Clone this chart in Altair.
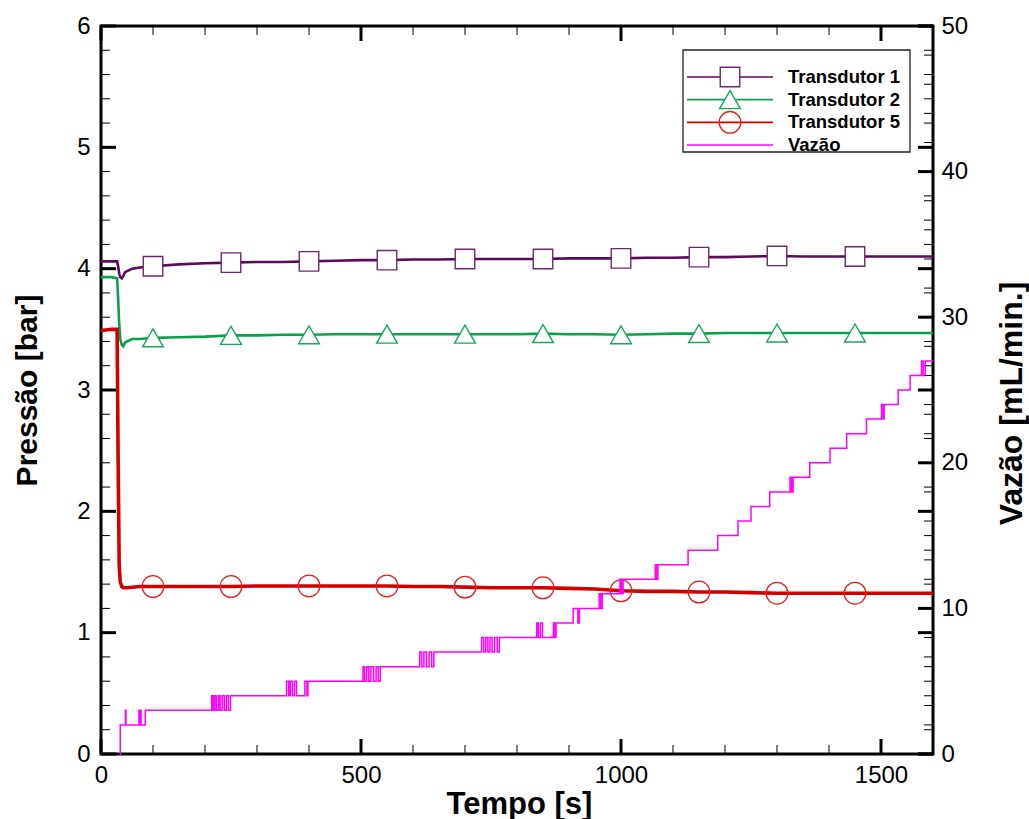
import altair as alt
import pandas as pd

# ---------------- data ----------------
time_s = [0, 20, 31, 33, 35, 37, 40, 43, 46, 50,
          60, 75, 100,
          150, 200, 250, 300, 350, 400, 450, 500, 550, 600,
          650, 700, 750, 800, 850, 900, 950, 1000, 1050, 1100,
          1150, 1200, 1250, 1300, 1350, 1400, 1450, 1500, 1550, 1600]

transdutor1 = [4.06, 4.06, 4.06, 4.02, 3.96, 3.93, 3.92, 3.94, 3.97, 3.98,
               4.00, 4.01, 4.02,
               4.035, 4.045, 4.05, 4.055, 4.055, 4.06, 4.065, 4.07, 4.07, 4.075,
               4.075, 4.08, 4.08, 4.08, 4.08, 4.085, 4.085, 4.085, 4.09, 4.09,
               4.095, 4.095, 4.10, 4.105, 4.10, 4.10, 4.10, 4.10, 4.10, 4.10]

transdutor2 = [3.93, 3.93, 3.92, 3.75, 3.55, 3.42, 3.37, 3.36, 3.39, 3.40,
               3.42, 3.42, 3.43,
               3.435, 3.44, 3.45, 3.45, 3.455, 3.455, 3.46, 3.46, 3.46, 3.46,
               3.46, 3.46, 3.46, 3.46, 3.465, 3.46, 3.46, 3.455, 3.46, 3.465,
               3.465, 3.47, 3.47, 3.47, 3.47, 3.47, 3.47, 3.47, 3.47, 3.47]

transdutor5 = [3.49, 3.50, 3.50, 2.40, 1.55, 1.42, 1.38, 1.37, 1.37, 1.37,
               1.375, 1.38, 1.38,
               1.38, 1.38, 1.38, 1.385, 1.385, 1.385, 1.385, 1.385, 1.385, 1.38,
               1.38, 1.375, 1.37, 1.37, 1.37, 1.365, 1.36, 1.345, 1.34, 1.34,
               1.335, 1.335, 1.33, 1.325, 1.325, 1.325, 1.325, 1.325, 1.325, 1.325]

marker_times = [100, 250, 400, 550, 700, 850, 1000, 1150, 1300, 1450]

# Vazão (mL/min) as (time, value) steps, incl. flicker at transitions
vazao_steps = [
    (36, 0), (37, 2), (47, 3), (48, 2), (73, 3), (74, 2), (76, 3), (77, 2), (85, 3),
    (213, 4), (216, 3), (219, 4), (222, 3), (226, 4), (229, 3), (233, 4), (237, 3),
    (241, 4), (245, 3), (249, 4),
    (357, 5), (361, 4), (364, 5), (368, 4), (372, 5), (376, 4), (392, 5), (396, 4), (398, 5),
    (504, 6), (507, 5), (511, 6), (515, 5), (519, 6), (524, 5), (529, 6), (533, 5), (537, 6),
    (613, 7), (617, 6), (621, 7), (626, 6), (631, 7), (636, 6), (640, 7),
    (732, 8), (736, 7), (740, 8), (744, 7), (748, 8), (752, 7), (757, 8), (762, 7), (766, 8),
    (838, 9), (841, 8), (845, 9), (849, 8), (870, 9), (873, 8), (875, 9),
    (908, 10), (917, 9), (920, 10),
    (958, 11), (961, 10), (964, 11),
    (998, 12), (1001, 11), (1004, 12),
    (1066, 13), (1068, 12), (1071, 13),
    (1129, 14), (1186, 15), (1225, 16), (1250, 17), (1286, 18),
    (1325, 19), (1328, 18), (1331, 19), (1363, 20), (1402, 21), (1434, 22), (1472, 23),
    (1501, 24), (1504, 23), (1506, 24), (1533, 25), (1556, 26),
    (1578, 27), (1581, 26), (1585, 27), (1600, 27),
]

legend_labels = ["Transdutor 1", "Transdutor 2", "Transdutor 5", "Vazão"]
line_colors = ["#5c0a5c", "#0aa04e", "#d40000", "#ff00ff"]
marker_colors = ["#6e2a6e", "#1aa85a", "#e02020"]
marker_shapes = ["square", "triangle-up", "circle"]
marker_sizes = [380, 430, 470]
marker_fills = ["white", "white", None]

# tick positions
p_major = [0, 1, 2, 3, 4, 5, 6]
p_minor = [round(0.2 * i, 1) for i in range(31) if i % 5]
f_major = [0, 10, 20, 30, 40, 50]
f_minor = [2 * i for i in range(26) if i % 5]
t_major = [0, 500, 1000, 1500]
t_minor = [100 * i for i in range(17) if i % 5]

# ---------------- layout ----------------
W, H = 832, 728
LABEL_FONT = "Liberation Sans, Arial"
TITLE_FONT = "Liberation Sans, Arial"

xscale = alt.Scale(domain=[0, 1600], nice=False, zero=False)
pscale = alt.Scale(domain=[0, 6], nice=False, zero=False)
fscale = alt.Scale(domain=[0, 50], nice=False, zero=False)

common_axis = dict(ticks=False, domain=False, grid=False, format="d", labelFlush=False,
                   labelFont=LABEL_FONT, labelFontSize=24, labelColor="black",
                   titleFont=TITLE_FONT, titleFontWeight="bold", titleColor="black",
                   titleBaseline="alphabetic", titleAlign="center")
xaxis = alt.Axis(title="Tempo [s]", values=t_major, labelPadding=9,
                 titleFontSize=31, titleX=418, titleY=59, titleAngle=0,
                 orient="bottom", **common_axis)
paxis = alt.Axis(title="Pressão [bar]", values=p_major, labelPadding=11,
                 titleFontSize=30, titleX=-65, titleY=H / 2, titleAngle=-90,
                 orient="left", **common_axis)
faxis = alt.Axis(title="Vazão [mL/min.]", values=f_major, labelPadding=8,
                 titleFontSize=32, titleX=88, titleY=377, titleAngle=-90,
                 orient="right", **common_axis)


def X(f):
    return alt.X(f"{f}:Q", scale=xscale, axis=xaxis)


def PY(f):
    return alt.Y(f"{f}:Q", scale=pscale, axis=paxis)


def FY(f):
    return alt.Y(f"{f}:Q", scale=fscale, axis=faxis)


df = pd.DataFrame({"t": time_s, "T1": transdutor1, "T2": transdutor2, "T5": transdutor5})
mk = df[df["t"].isin(marker_times)]
vz = pd.DataFrame(vazao_steps, columns=["t", "v"])

# ---------------- pressure layers ----------------
press_layers = []
for col, c, sw in zip(["T1", "T2", "T5"], line_colors[:3], [2.6, 2.6, 3.6]):
    press_layers.append(
        alt.Chart(df).mark_line(color=c, strokeWidth=sw, interpolate="linear")
        .encode(x=X("t"), y=PY(col))
    )
for col, c, shp, sz, fl in zip(["T1", "T2", "T5"], marker_colors, marker_shapes,
                               marker_sizes, marker_fills):
    if fl:
        m = alt.Chart(mk).mark_point(shape=shp, size=sz, filled=True, fill=fl, fillOpacity=1,
                                     stroke=c, strokeWidth=1.4, opacity=1)
    else:
        m = alt.Chart(mk).mark_point(shape=shp, size=sz, filled=False, color=c,
                                     strokeWidth=1.3, opacity=1)
    press_layers.append(m.encode(x=X("t"), y=PY(col)))

pmaj = pd.DataFrame({"v": p_major})
pmin = pd.DataFrame({"v": p_minor})
for d, ln, sw in [(pmaj, 15, 3), (pmin, 9, 1)]:
    press_layers.append(alt.Chart(d).mark_rule(color="black", strokeWidth=sw)
                        .encode(y=PY("v"), x=alt.value(0), x2=alt.value(ln)))
    press_layers.append(alt.Chart(d).mark_rule(color="black", strokeWidth=sw)
                        .encode(y=PY("v"), x=alt.value(W), x2=alt.value(W - ln)))
pressure = alt.layer(*press_layers)

# ---------------- flow layers ----------------
flow_layers = [
    alt.Chart(vz).mark_line(color=line_colors[3], strokeWidth=1.5, interpolate="step-after")
    .encode(x=X("t"), y=FY("v"))
]
fmaj = pd.DataFrame({"v": f_major})
fmin = pd.DataFrame({"v": f_minor})
for d, ln, sw in [(fmaj, 15, 3), (fmin, 9, 1)]:
    flow_layers.append(alt.Chart(d).mark_rule(color="black", strokeWidth=sw)
                       .encode(y=FY("v"), x=alt.value(W), x2=alt.value(W - ln)))
flow = alt.layer(*flow_layers)

# ---------------- time ticks (bottom + top) ----------------
tick_layers = []
tmaj = pd.DataFrame({"v": t_major})
tmin = pd.DataFrame({"v": t_minor})
for d, ln, sw in [(tmaj, 15, 3), (tmin, 9, 1)]:
    tick_layers.append(alt.Chart(d).mark_rule(color="black", strokeWidth=sw)
                       .encode(x=X("v"), y=alt.value(H), y2=alt.value(H - ln)))
    tick_layers.append(alt.Chart(d).mark_rule(color="black", strokeWidth=sw)
                       .encode(x=X("v"), y=alt.value(0), y2=alt.value(ln)))
tticks = alt.layer(*tick_layers)

# ---------------- legend ----------------
leg = pd.DataFrame({"label": legend_labels, "row": list(range(len(legend_labels)))})
legscale = alt.Scale(domain=[0, 3], range=[51, 119], nice=False, zero=False)
LY = alt.Y("row:Q", scale=legscale, axis=None)
legend_layers = [
    alt.Chart(pd.DataFrame({"a": [0]})).mark_rect(fill="white", stroke="#222", strokeWidth=1.3)
    .encode(x=alt.value(582), x2=alt.value(809), y=alt.value(24), y2=alt.value(126))
]
for i, lab in enumerate(legend_labels):
    row = leg[leg["row"] == i]
    legend_layers.append(alt.Chart(row).mark_rule(color=line_colors[i], strokeWidth=1.6)
                         .encode(x=alt.value(586), x2=alt.value(672), y=LY))
    if i < 3:
        if marker_fills[i]:
            m = alt.Chart(row).mark_point(shape=marker_shapes[i], size=marker_sizes[i],
                                          filled=True, fill=marker_fills[i], fillOpacity=1,
                                          stroke=marker_colors[i], strokeWidth=1.4, opacity=1)
        else:
            m = alt.Chart(row).mark_point(shape=marker_shapes[i], size=marker_sizes[i],
                                          filled=False, color=marker_colors[i],
                                          strokeWidth=1.3, opacity=1)
        legend_layers.append(m.encode(x=alt.value(629), y=LY))
legend_layers.append(
    alt.Chart(leg).mark_text(align="left", baseline="middle", font=TITLE_FONT,
                             fontSize=18.5, fontWeight="bold", color="black")
    .encode(x=alt.value(687), y=LY, text="label:N")
)
legend = alt.layer(*legend_layers)

chart = (
    alt.layer(pressure, flow, tticks, legend)
    .resolve_scale(y="independent")
    .properties(
        width=W, height=H,
        padding={"left": 101, "top": 26, "right": 96, "bottom": 65},
        autosize=alt.AutoSizeParams(type="none"),
        background="white",
    )
    .configure_view(stroke="black", strokeWidth=3)
)

chart.save("out.html", embed_options={"renderer": "svg", "actions": False})
